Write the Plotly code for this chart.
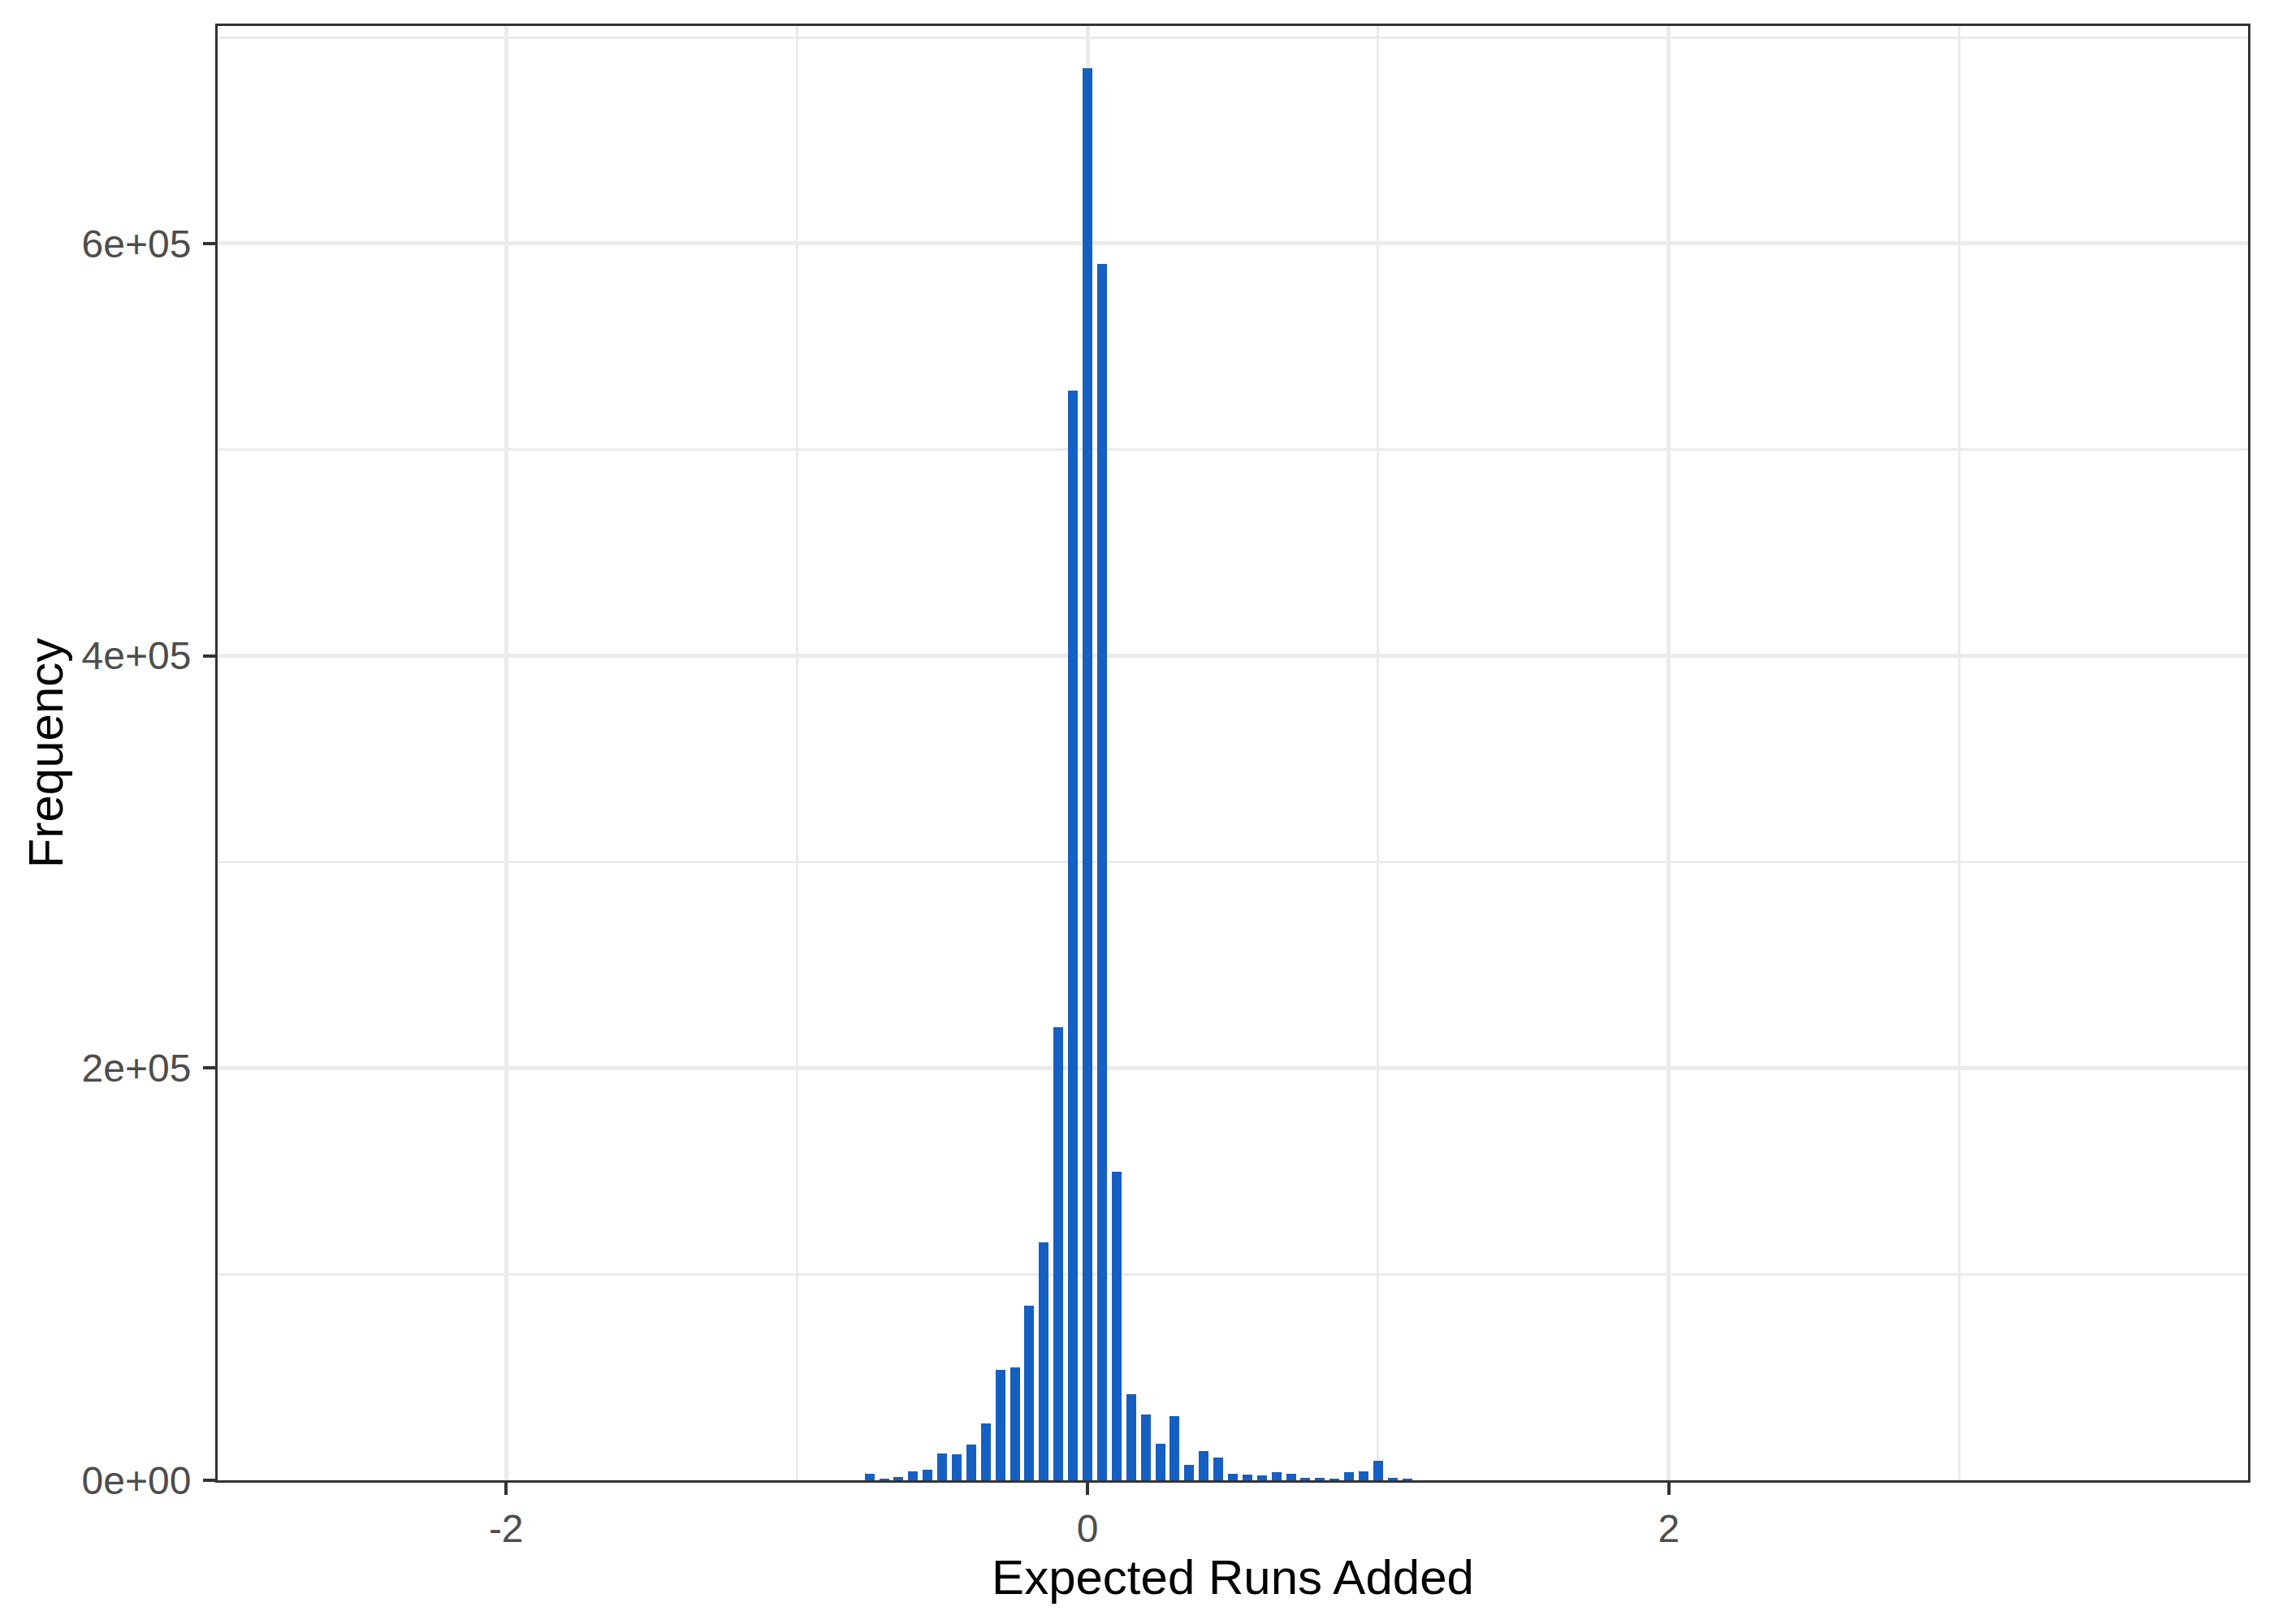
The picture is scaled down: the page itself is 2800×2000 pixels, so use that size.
import plotly.graph_objects as go

# Histogram bins (centers, binwidth 0.05) and counts
bin_width = 0.05
bin_centers = [-0.75, -0.70, -0.65, -0.60, -0.55, -0.50, -0.45, -0.40, -0.35, -0.30,
               -0.25, -0.20, -0.15, -0.10, -0.05, 0.00, 0.05, 0.10, 0.15, 0.20,
               0.25, 0.30, 0.35, 0.40, 0.45, 0.50, 0.55, 0.60, 0.65, 0.70,
               0.75, 0.80, 0.85, 0.90, 0.95, 1.00, 1.05, 1.10]
counts = [3300, 800, 1450, 4200, 5300, 13100, 12800, 17200, 27500, 53600,
          54700, 84600, 115300, 220000, 528500, 685000, 590000, 149800, 41600, 32100,
          17800, 31300, 7500, 14200, 11100, 3300, 2900, 2500, 4100, 3000,
          1200, 1300, 800, 3800, 4500, 9300, 1300, 800]

# full data extent of the histogram (outer bins are too small to see)
data_min_center = -2.65
data_max_center = 3.65

y_tickvals = [0, 200000, 400000, 600000]
y_ticktext = ["0e+00", "2e+05", "4e+05", "6e+05"]
x_tickvals = [-2, 0, 2]
x_ticktext = ["-2", "0", "2"]

lo = data_min_center - bin_width / 2
hi = data_max_center + bin_width / 2
pad = (hi - lo) * 0.05
x_range = [lo - pad, hi + pad]
y_range = [0, max(counts) * 1.03]

FONT = "Liberation Sans, Arial, Helvetica, sans-serif"
GRID = "#EBEBEB"
DARK = "#333333"

fig = go.Figure()
fig.add_trace(go.Bar(
    x=bin_centers, y=counts, width=bin_width * 0.67,
    marker=dict(color="#165FC2", line=dict(width=0)),
    showlegend=False,
))

# page body has an 8px default margin; figure sized/margined to compensate
fig.update_layout(
    width=2792, height=1992,
    margin=dict(l=260, r=32, t=24, b=177),
    plot_bgcolor="white", paper_bgcolor="white",
    font=dict(family=FONT, color="black"),
    bargap=0,
)

fig.update_xaxes(
    range=x_range,
    tickvals=x_tickvals, ticktext=x_ticktext,
    tickfont=dict(size=48, color="#4D4D4D", family=FONT),
    ticks="outside", ticklen=15, tickwidth=4, tickcolor=DARK,
    ticklabelstandoff=0,
    showgrid=True, gridcolor=GRID, gridwidth=5,
    minor=dict(dtick=1, tick0=0, showgrid=True, gridcolor=GRID, gridwidth=2.5, ticklen=0),
    showline=True, mirror=True, linecolor=DARK, linewidth=3,
    zeroline=False,
    title=dict(text="Expected Runs Added", font=dict(size=60, color="black", family=FONT), standoff=4),
)
fig.update_yaxes(
    range=y_range,
    tickvals=y_tickvals, ticktext=y_ticktext,
    tickfont=dict(size=48, color="#4D4D4D", family=FONT),
    ticks="outside", ticklen=15, tickwidth=4, tickcolor=DARK,
    ticklabelstandoff=5,
    showgrid=True, gridcolor=GRID, gridwidth=5,
    minor=dict(dtick=100000, tick0=0, showgrid=True, gridcolor=GRID, gridwidth=2.5, ticklen=0),
    showline=True, mirror=True, linecolor=DARK, linewidth=3,
    zeroline=False,
    title=dict(text="Frequency", font=dict(size=60, color="black", family=FONT), standoff=4),
)

fig.write_html("out.html")
